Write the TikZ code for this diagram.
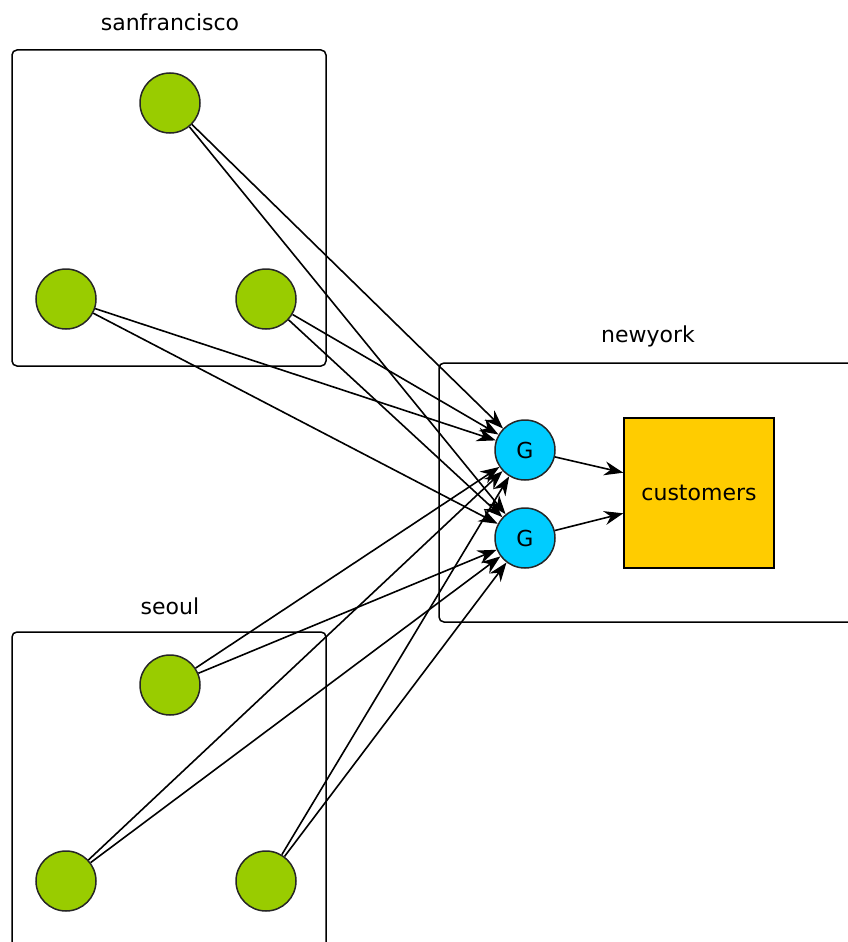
\documentclass[tikz,border=0pt]{standalone}
\usepackage{fontspec}
\setmainfont{DejaVu Sans}
\usetikzlibrary{positioning,arrows.meta}
\definecolor{sitegreen}{HTML}{99CC00}
\definecolor{gatewayblue}{HTML}{00CCFF}
\definecolor{custyellow}{HTML}{FFCC00}

\begin{document}
\begin{tikzpicture}[x=1pt, y=-1pt,
    every node/.style={font=\fontsize{22}{26}\selectfont},
    sitebox/.style={draw, line width=1.5pt, rounded corners=5pt,
      minimum width=314pt, inner sep=0pt},
    server/.style={circle, draw=black!85, line width=1.5pt,
      fill=sitegreen, minimum size=60pt, inner sep=0pt},
    gateway/.style={circle, draw=black!85, line width=1.5pt,
      fill=gatewayblue, minimum size=60pt, inner sep=0pt},
    link/.style={-{Stealth[length=19pt,width=14pt]}, line width=1.6pt}]
      \clip (0,0) rectangle (848,942);
      % San Francisco site
      \node[sitebox, minimum height=316pt] (sf) at (169,208) {};
      \node (sflabel) at (170,22) {sanfrancisco};
      \node[server] (sftop) at (170,103) {};
      \node[server] (sfleft) at (66,299) {};
      \node[server] (sfright) at (266,299) {};
      % Seoul site
      \node[sitebox, minimum height=330pt] (seoul) at (169,797) {};
      \node (seoullabel) at (170,606) {seoul};
      \node[server] (setop) at (170,685) {};
      \node[server] (seleft) at (66,881) {};
      \node[server] (seright) at (266,881) {};
      % New York site
      \node[sitebox, minimum width=440pt, minimum height=259pt] (ny) at (659,492.5) {};
      \node (nylabel) at (648,336) {newyork};
      \node[gateway] (g1) at (525,450) {G};
      \node[gateway] (g2) at (525,538) {G};
      \node[draw, line width=1.5pt, fill=custyellow,
            minimum size=150pt, inner sep=0pt] (customers) at (699,493) {customers};
      % Links to the gateways
      \foreach \src in {sftop,sfleft,sfright,setop,seleft,seright}
        \foreach \dst in {g1,g2}
          \draw[link] (\src) -- (\dst);
      \draw[link] (g1) -- (customers.165);
      \draw[link] (g2) -- (customers.195);
\end{tikzpicture}
\end{document}
